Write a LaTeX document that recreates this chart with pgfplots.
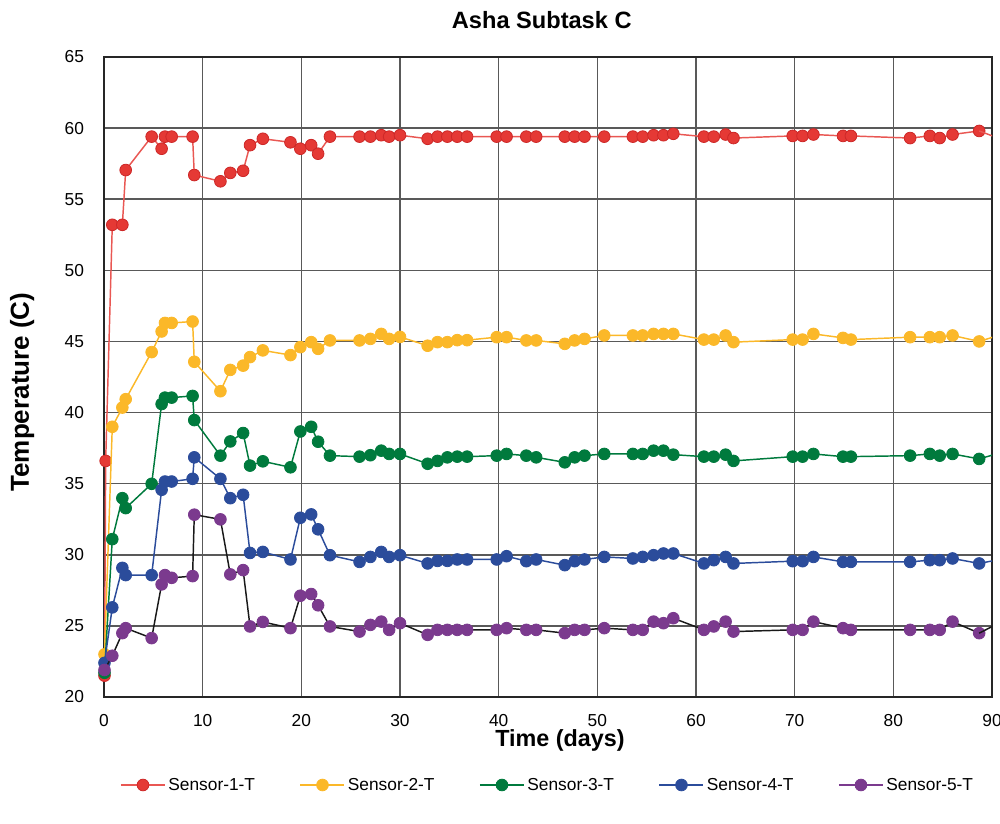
\documentclass[border=0pt]{standalone}
\usepackage{pgfplots}
\pgfplotsset{compat=1.18}
\usepackage{pgfplotstable}
\usepackage{fontspec}
\setmainfont{Liberation Sans}
\definecolor{cA}{RGB}{229,57,53}
\definecolor{cAd}{RGB}{205,40,40}
\definecolor{cB}{RGB}{251,184,41}
\definecolor{cC}{RGB}{0,122,61}
\definecolor{cD}{RGB}{43,76,155}
\definecolor{cE}{RGB}{123,58,142}
\pgfplotstableread{
t s1 s2 s3 s4 s5
0.05 21.5 23.0 21.7 22.4 21.9
0.17 36.6 nan nan nan nan
0.84 53.2 39.0 31.1 26.3 22.9
1.86 53.2 40.35 33.98 29.08 24.49
2.2 57.05 40.94 33.28 28.57 24.84
4.83 59.4 44.25 34.99 28.57 24.14
5.84 58.55 45.7 40.6 34.57 27.92
6.18 59.4 46.3 41.05 35.15 28.57
6.86 59.4 46.3 41.05 35.15 28.38
8.98 59.4 46.4 41.17 35.34 28.5
9.15 56.7 43.57 39.47 36.85 32.82
11.8 56.26 41.5 36.97 35.34 32.49
12.8 56.85 43.0 37.97 33.98 28.62
14.1 57.0 43.3 38.56 34.22 28.92
14.8 58.8 43.9 36.27 30.13 24.96
16.1 59.25 44.37 36.57 30.2 25.28
18.9 59.0 44.04 36.15 29.67 24.84
19.9 58.55 44.6 38.67 32.6 27.12
21.0 58.8 44.95 39.0 32.84 27.24
21.7 58.2 44.48 37.95 31.79 26.45
22.9 59.4 45.07 36.97 29.97 24.96
25.9 59.4 45.07 36.9 29.5 24.6
27.0 59.4 45.18 37.0 29.85 25.07
28.1 59.5 45.53 37.32 30.2 25.3
28.9 59.4 45.18 37.09 29.85 24.72
30.0 59.5 45.32 37.09 29.97 25.19
32.8 59.25 44.7 36.4 29.39 24.37
33.8 59.4 44.95 36.6 29.57 24.72
34.8 59.4 44.95 36.85 29.57 24.72
35.8 59.4 45.09 36.9 29.67 24.72
36.8 59.4 45.09 36.9 29.67 24.72
39.8 59.4 45.3 36.97 29.67 24.72
40.8 59.4 45.3 37.09 29.9 24.84
42.8 59.4 45.07 36.97 29.55 24.72
43.8 59.4 45.07 36.85 29.67 24.72
46.7 59.4 44.83 36.5 29.27 24.49
47.7 59.4 45.07 36.85 29.55 24.72
48.7 59.4 45.18 36.97 29.67 24.72
50.7 59.4 45.42 37.09 29.85 24.84
53.6 59.4 45.42 37.09 29.74 24.72
54.6 59.4 45.42 37.09 29.85 24.72
55.7 59.5 45.53 37.32 29.97 25.3
56.7 59.5 45.53 37.32 30.09 25.19
57.7 59.6 45.53 37.04 30.09 25.54
60.8 59.4 45.13 36.9 29.39 24.72
61.8 59.4 45.13 36.9 29.62 24.96
63.0 59.55 45.42 37.04 29.85 25.3
63.8 59.3 44.95 36.6 29.39 24.6
69.8 59.45 45.13 36.9 29.55 24.72
70.8 59.45 45.13 36.9 29.55 24.72
71.9 59.55 45.53 37.09 29.85 25.3
74.9 59.45 45.25 36.9 29.5 24.84
75.7 59.45 45.13 36.9 29.5 24.72
81.7 59.3 45.3 36.97 29.5 24.72
83.7 59.45 45.3 37.09 29.62 24.72
84.7 59.3 45.3 36.97 29.62 24.72
86.0 59.55 45.42 37.09 29.74 25.3
88.7 59.8 45.0 36.74 29.39 24.49
}\datatable
\begin{document}
\begin{tikzpicture}
\begin{axis}[
  scale only axis,
  width=666pt, height=480pt,
  xmin=0, xmax=90, ymin=20, ymax=65,
  xtick={0,10,...,90}, ytick={20,25,...,65},
  grid=major,
  major grid style={black!65, line width=1.1pt},
  axis line style={black!85, line width=1.1pt},
  major tick length=0pt,
  tick label style={font=\fontsize{13}{15}\selectfont},
  /pgf/number format/assume math mode=true,
  x tick label style={anchor=center, inner sep=0.5pt, yshift=-17.5pt},
  y tick label style={anchor=east, xshift=-11.5pt},
  title={\textbf{Asha Subtask C}},
  title style={font=\fontsize{17.7}{19}\selectfont, at={(axis description cs:0.493,1.0453)}, anchor=center, yshift=0pt},
  xlabel={\textbf{Time (days)}},
  xlabel style={font=\fontsize{17.5}{19}\selectfont, inner sep=0pt, at={(axis description cs:0.5135,-0.0685)}, anchor=center, yshift=0pt},
  ylabel={\textbf{Temperature (C)}},
  ylabel style={font=\fontsize{19.5}{21}\selectfont, at={(axis description cs:-0.0923,0.4766)}, anchor=center},
  clip mode=individual,
  legend columns=5,
  legend style={draw=none, fill=none, font=\fontsize{13}{15}\selectfont, at={(axis description cs:0.5,-0.1375)}, anchor=center, /tikz/every even column/.append style={column sep=31.5pt}},
  legend image code/.code={\draw[mark repeat=2,mark phase=2,#1] plot coordinates {(0cm,0cm) (16.5pt,0cm) (33pt,0cm)};},
  every axis plot/.append style={line width=1.1pt, mark=*, mark size=4.4pt},
]
\addplot[cA!85, mark options={fill=cA, draw=cAd, line width=0.6pt}] table[x=t, y=s1] {\datatable};
\addlegendentry{Sensor-1-T}
\addplot[cB, mark options={fill=cB, draw=cB, line width=0.6pt}] table[x=t, y=s2] {\datatable};
\addlegendentry{Sensor-2-T}
\addplot[cC, mark options={fill=cC, draw=cC, line width=0.6pt}] table[x=t, y=s3] {\datatable};
\addlegendentry{Sensor-3-T}
\addplot[cD, mark options={fill=cD, draw=cD, line width=0.6pt}] table[x=t, y=s4] {\datatable};
\addlegendentry{Sensor-4-T}
\addplot[black!90, mark options={fill=cE, draw=cE, line width=0.6pt}, legend image post style={draw=cE}] table[x=t, y=s5] {\datatable};
\addlegendentry{Sensor-5-T}
\addplot[cA!85, no marks, forget plot] coordinates {(88.7,59.8) (91,59.2)};
\addplot[cB, no marks, forget plot] coordinates {(88.7,45.0) (91,45.5)};
\addplot[cC, no marks, forget plot] coordinates {(88.7,36.74) (91,37.2)};
\addplot[cD, no marks, forget plot] coordinates {(88.7,29.39) (91,29.7)};
\addplot[black!90, no marks, forget plot] coordinates {(88.7,24.49) (91,25.3)};
\coordinate (sw) at (rel axis cs:0,0);
\coordinate (ne) at (rel axis cs:1,1);
\end{axis}
\pgfresetboundingbox
\path[use as bounding box] ([xshift=-78pt,yshift=-94.5pt]sw) rectangle ([xshift=6pt,yshift=42.75pt]ne);
\end{tikzpicture}
\end{document}
